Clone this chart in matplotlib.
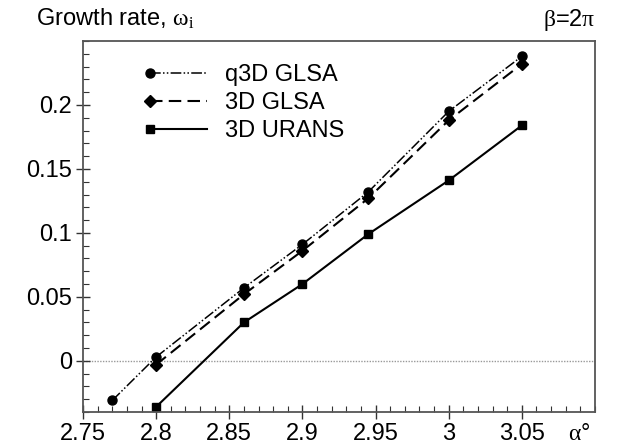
import matplotlib
matplotlib.use('Agg')
import matplotlib.pyplot as plt
from matplotlib.legend_handler import HandlerLine2D
from matplotlib.lines import Line2D
from matplotlib.ticker import MultipleLocator

plt.rcParams['font.family'] = ['Liberation Sans', 'DejaVu Sans']
plt.rcParams['mathtext.fontset'] = 'custom'
plt.rcParams['mathtext.rm'] = 'Liberation Serif'
plt.rcParams['mathtext.it'] = 'Liberation Serif:italic'

# angle of attack (deg)
alpha_q3d = [2.77, 2.8, 2.86, 2.9, 2.945, 3.0, 3.05]
alpha_3d = [2.8, 2.86, 2.9, 2.945, 3.0, 3.05]

# growth rates
q3d_glsa = [-0.031, 0.003, 0.057, 0.091, 0.132, 0.195, 0.238]
glsa_3d = [-0.003, 0.052, 0.086, 0.127, 0.188, 0.232]
urans_3d = [-0.036, 0.030, 0.060, 0.099, 0.141, 0.184]

x_ticks = [2.75, 2.8, 2.85, 2.9, 2.95, 3.0, 3.05]
x_labels = ['2.75', '2.8', '2.85', '2.9', '2.95', '3', '3.05']
y_ticks = [0, 0.05, 0.1, 0.15, 0.2]
y_labels = ['0', '0.05', '0.1', '0.15', '0.2']


class LeftMarker(HandlerLine2D):
    # legend marker sits at the left end of the line sample
    def create_artists(self, *args, **kwargs):
        arts = super().create_artists(*args, **kwargs)
        arts[0].set_markevery([0])
        return arts


fig = plt.figure(figsize=(6.18, 4.45), dpi=100)
ax = fig.add_axes([0.1343, 0.0742, 0.8285, 0.8337])

ax.axhline(0, color='#999999', lw=1, ls=(0, (1, 1)), zorder=1)

ax.plot(alpha_q3d, q3d_glsa, color='black', lw=1.1, ls=(0, (7, 1.5, 1, 1.5, 1, 1.5)),
        marker='o', ms=6.5, label='q3D GLSA')
ax.plot(alpha_3d, glsa_3d, color='black', lw=1.5, ls=(0, (6, 3)),
        marker='D', ms=6, label='3D GLSA')
ax.plot(alpha_3d, urans_3d, color='black', lw=1.5, ls='-',
        marker='s', ms=6, label='3D URANS')

ax.set_xlim(2.75, 3.10)
ax.set_ylim(-0.04, 0.25)
ax.set_xticks(x_ticks)
ax.set_xticklabels(x_labels)
ax.set_yticks(y_ticks)
ax.set_yticklabels(y_labels)
ax.xaxis.set_minor_locator(MultipleLocator(0.01))
ax.yaxis.set_minor_locator(MultipleLocator(0.01))
ax.tick_params(which='major', direction='inout', length=10, width=1, labelsize=17,
               color='#333333', pad=3)
ax.tick_params(which='minor', direction='in', length=4, width=0.8, color='#333333')
for s in ax.spines.values():
    s.set_color('#555555')
    s.set_linewidth(1.3)

ax.legend(loc='upper left', bbox_to_anchor=(0.09, 0.995), frameon=False, fontsize=17,
          handlelength=2.4, handletextpad=0.75, labelspacing=0.25,
          handler_map={Line2D: LeftMarker()})

fig.text(36 / 618, 0.9416, r'Growth rate, $\mathrm{\omega_i}$', fontsize=17, va='baseline')
fig.text(0.963, 0.9416, r'$\mathrm{\beta}$=2$\mathrm{\pi}$', fontsize=17, va='baseline', ha='right')
fig.text(568 / 618, 0.012, r'$\mathrm{\alpha}$°', fontsize=17, va='baseline')

fig.savefig('out.png', dpi=100)
